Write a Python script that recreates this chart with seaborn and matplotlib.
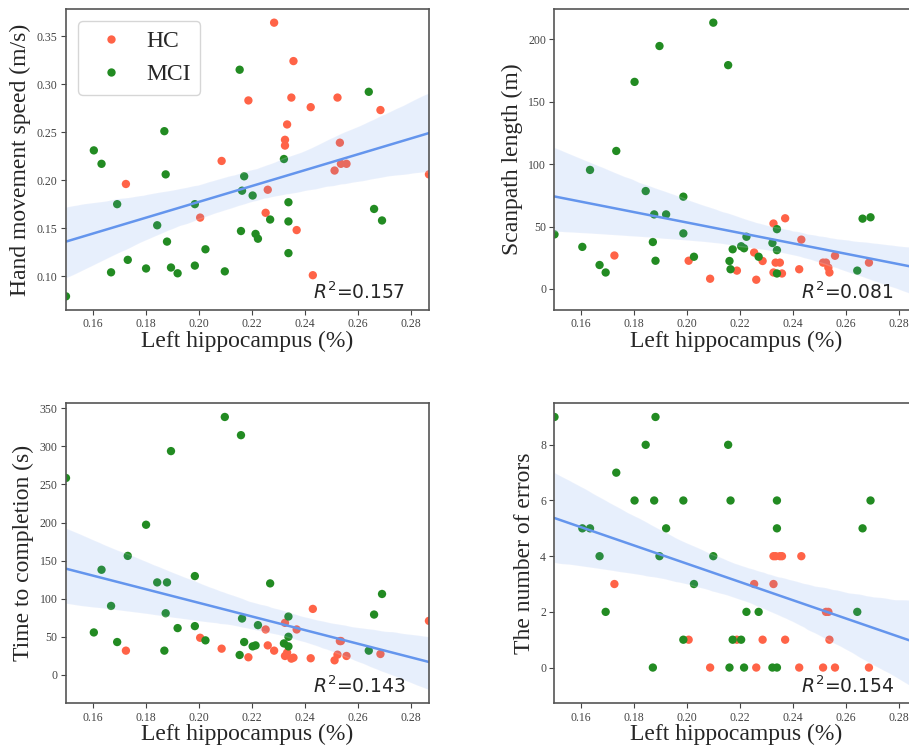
import pandas as pd
import seaborn as sns
import matplotlib.pyplot as plt

# Left hippocampus volume (%), one value per subject
hc_x = [0.1726, 0.2006, 0.2087, 0.2188, 0.2253, 0.2261, 0.2285, 0.2326, 0.2326, 0.2334, 0.2350,
        0.2358, 0.2370, 0.2423, 0.2431, 0.2513, 0.2524, 0.2533, 0.2537, 0.2558, 0.2686, 0.2869]
mci_x = [0.1500, 0.1605, 0.1634, 0.1670, 0.1693, 0.1733, 0.1802, 0.1844, 0.1871, 0.1876, 0.1881,
         0.1896, 0.1921, 0.1986, 0.1986, 0.2026, 0.2099, 0.2155, 0.2160, 0.2164, 0.2172, 0.2204,
         0.2215, 0.2224, 0.2270, 0.2322, 0.2339, 0.2339, 0.2339, 0.2642, 0.2662, 0.2692]

hc_speed = [0.196, 0.161, 0.220, 0.283, 0.166, 0.190, 0.364, 0.242, 0.236, 0.258, 0.286,
            0.324, 0.148, 0.276, 0.101, 0.210, 0.286, 0.239, 0.217, 0.217, 0.273, 0.206]
mci_speed = [0.079, 0.231, 0.217, 0.104, 0.175, 0.117, 0.108, 0.153, 0.251, 0.206, 0.136,
             0.109, 0.103, 0.175, 0.111, 0.128, 0.105, 0.315, 0.147, 0.189, 0.204, 0.184,
             0.144, 0.139, 0.159, 0.222, 0.177, 0.157, 0.124, 0.292, 0.170, 0.158]

hc_scan = [26.8, 22.6, 8.2, 14.7, 29.2, 7.4, 22.4, 52.4, 13.2, 21.1, 21.1,
           12.4, 56.6, 15.8, 39.5, 21.1, 21.1, 17.1, 13.2, 26.6, 21.1, 46.0]
mci_scan = [43.7, 33.7, 95.3, 19.2, 13.2, 110.5, 165.8, 78.4, 37.6, 59.7, 22.6,
            194.5, 59.7, 73.9, 44.5, 25.8, 213.2, 179.2, 22.4, 15.8, 31.8, 34.2,
            32.6, 41.8, 25.8, 36.8, 47.9, 31.1, 12.4, 14.7, 56.3, 57.4]

hc_time = [31.8, 48.7, 34.4, 23.1, 59.6, 38.7, 31.8, 68.3, 24.8, 29.2, 21.3,
           22.6, 59.6, 21.8, 86.6, 19.1, 26.5, 44.4, 44.4, 24.8, 27.4, 70.9]
mci_time = [258.5, 55.7, 138.0, 90.5, 43.1, 156.2, 197.1, 121.4, 31.8, 80.9, 121.4,
            293.8, 61.4, 129.7, 64.0, 45.3, 338.6, 26.1, 314.7, 74.0, 43.1, 37.4,
            38.7, 65.3, 120.1, 41.3, 76.6, 50.0, 37.4, 31.8, 79.2, 106.2]

hc_err = [3, 1, 0, 1, 3, 0, 1, 3, 4, 4, 4, 4, 1, 0, 4, 0, 2, 2, 1, 0, 0, 3]
mci_err = [9, 5, 5, 4, 2, 7, 6, 8, 0, 6, 9, 4, 5, 6, 1, 3, 4, 8, 0, 6, 1, 1,
           0, 2, 2, 0, 6, 5, 0, 2, 5, 6]

ylabels = ['Hand movement speed (m/s)', 'Scanpath length (m)',
           'Time to completion (s)', 'The number of errors']
r2_texts = ['0.157', '0.081', '0.143', '0.154']
hc_vals = [hc_speed, hc_scan, hc_time, hc_err]
mci_vals = [mci_speed, mci_scan, mci_time, mci_err]

sns.set_style('ticks')
plt.rcParams['font.family'] = ['Liberation Serif', 'DejaVu Serif']

fig = plt.figure(figsize=(9.09, 7.49), dpi=100)
positions = [[0.0726, 0.5861, 0.3993, 0.4019], [0.6100, 0.5861, 0.3993, 0.4019],
             [0.0726, 0.0610, 0.3993, 0.4005], [0.6100, 0.0610, 0.3993, 0.4005]]

for i in range(4):
    ax = fig.add_axes(positions[i])
    df = pd.DataFrame({'x': hc_x + mci_x,
                       'y': hc_vals[i] + mci_vals[i],
                       'group': ['HC'] * len(hc_x) + ['MCI'] * len(mci_x)})
    sns.scatterplot(data=df, x='x', y='y', hue='group', s=36, linewidth=0,
                    palette={'HC': 'tomato', 'MCI': 'forestgreen'},
                    ax=ax, legend=(i == 0))
    sns.regplot(data=df, x='x', y='y', scatter=False, color='cornflowerblue',
                ax=ax, seed=0, line_kws={'lw': 1.8})
    ax.set_xlim(df['x'].min(), df['x'].max())
    ax.set_xlabel('Left hippocampus (%)', fontsize=17, labelpad=0)
    ax.set_ylabel(ylabels[i], fontsize=17)
    ax.tick_params(labelsize=8.5, colors='#444444', length=3.5, pad=2.5)
    for sp in ax.spines.values():
        sp.set_color('#555555')
        sp.set_linewidth(1.2)
    ax.text(0.68, 0.035, '$R^2$=' + r2_texts[i], transform=ax.transAxes,
            fontsize=13.5, family='DejaVu Sans')
    if i == 0:
        handles, labels = ax.get_legend_handles_labels()
        ax.legend(handles, labels, loc='upper left', prop={'size': 17},
                  handletextpad=0.5)

fig.savefig('out.png', dpi=100)
